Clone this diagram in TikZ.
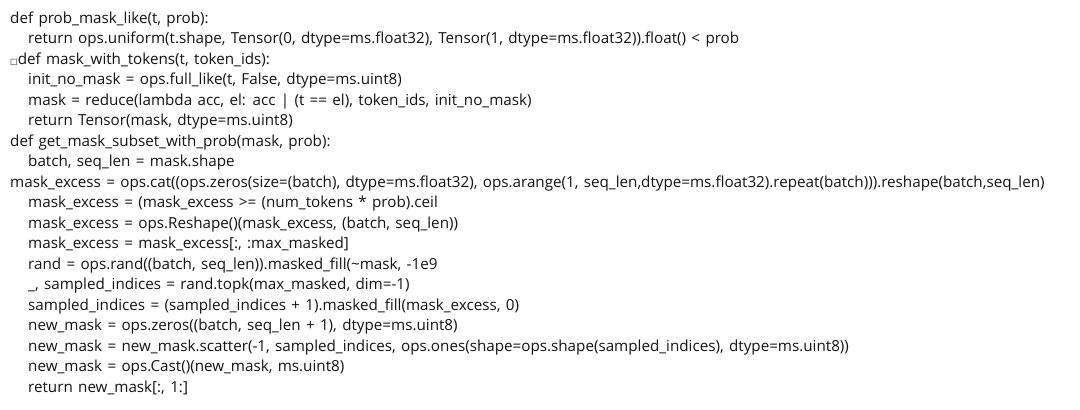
\documentclass[tikz,border=0pt]{standalone}
\usepackage{fontspec}
\setmainfont{Open Sans}[WordSpace=1.35]
\newfontfamily\boxfont{DejaVu Sans}
\usepackage{tikz}

\tikzset{
    codeline/.style={anchor=base west, inner sep=0pt, text=black!92,
                     font=\fontsize{15.2}{17}\selectfont},
}

\begin{document}
\begin{tikzpicture}[x=1pt,y=1pt]

\useasboundingbox [fill=white] (0,0) rectangle (1080,-410);

\node [codeline] (l1)  at (10, -23.0)  {def prob\_mask\_like(t, prob):};
\node [codeline] (l2)  at (28, -43.5)  {return ops.uniform(t.shape, Tensor(0, dtype=ms.float32), Tensor(1, dtype=ms.float32)).float() < prob};
\node [codeline] (l3)  at (10, -64.0)  {{\boxfont\fontsize{8}{8}\selectfont □}def mask\_with\_tokens(t, token\_ids):};
\node [codeline] (l4)  at (28, -84.5)  {init\_no\_mask = ops.full\_like(t, False, dtype=ms.uint8)};
\node [codeline] (l5)  at (28, -105.0) {mask = reduce(lambda acc, el: acc | (t == el), token\_ids, init\_no\_mask)};
\node [codeline] (l6)  at (28, -125.5) {return Tensor(mask, dtype=ms.uint8)};
\node [codeline] (l7)  at (10, -146.0) {def get\_mask\_subset\_with\_prob(mask, prob):};
\node [codeline] (l8)  at (28, -166.5) {batch, seq\_len = mask.shape};
\node [codeline] (l9)  at (10, -187.0) {mask\_excess = ops.cat((ops.zeros(size=(batch), dtype=ms.float32), ops.arange(1, seq\_len,dtype=ms.float32).repeat(batch))).reshape(batch,seq\_len)};
\node [codeline] (l10) at (28, -207.5) {mask\_excess = (mask\_excess >= (num\_tokens * prob).ceil};
\node [codeline] (l11) at (28, -228.0) {mask\_excess = ops.Reshape()(mask\_excess, (batch, seq\_len))};
\node [codeline] (l12) at (28, -248.5) {mask\_excess = mask\_excess[:, :max\_masked]};
\node [codeline] (l13) at (28, -269.0) {rand = ops.rand((batch, seq\_len)).masked\_fill(\textasciitilde mask, -1e9};
\node [codeline] (l14) at (28, -289.5) {\_, sampled\_indices = rand.topk(max\_masked, dim=-1)};
\node [codeline] (l15) at (28, -310.0) {sampled\_indices = (sampled\_indices + 1).masked\_fill(mask\_excess, 0)};
\node [codeline] (l16) at (28, -330.5) {new\_mask = ops.zeros((batch, seq\_len + 1), dtype=ms.uint8)};
\node [codeline] (l17) at (28, -351.0) {new\_mask = new\_mask.scatter(-1, sampled\_indices, ops.ones(shape=ops.shape(sampled\_indices), dtype=ms.uint8))};
\node [codeline] (l18) at (28, -371.5) {new\_mask = ops.Cast()(new\_mask, ms.uint8)};
\node [codeline] (l19) at (28, -392.0) {return new\_mask[:, 1:]};

\end{tikzpicture}
\end{document}
